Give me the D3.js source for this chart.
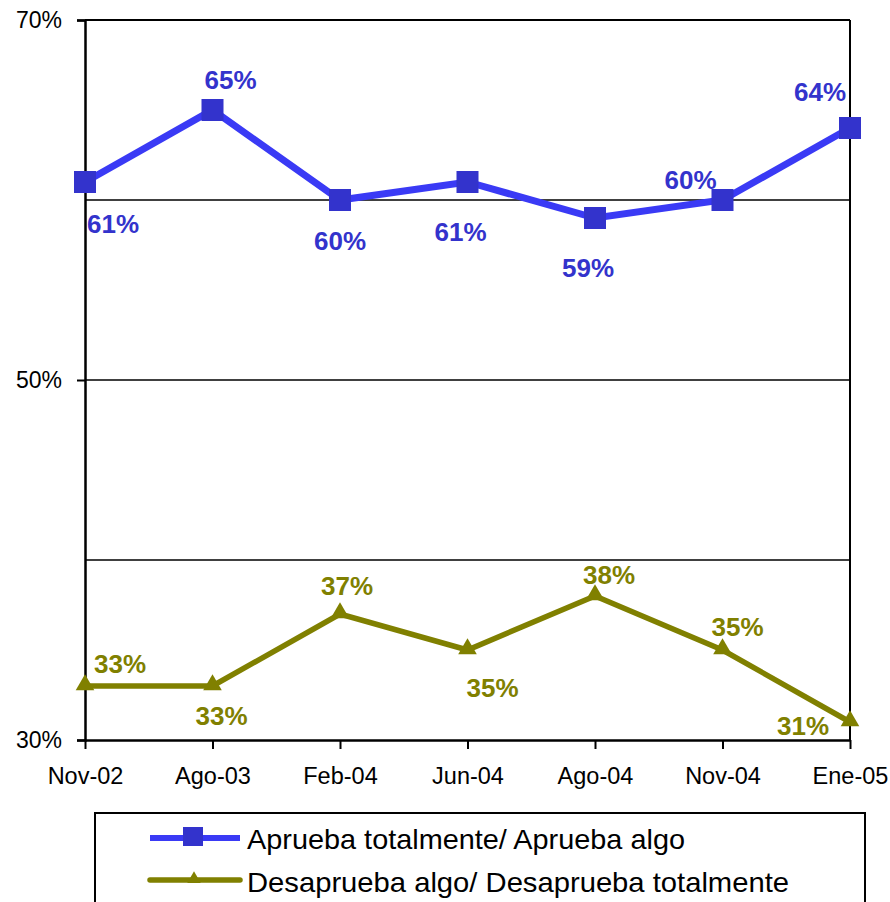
<!DOCTYPE html>
<html><head><meta charset="utf-8">
<script src="https://cdn.jsdelivr.net/npm/d3@7"></script>
<style>body{margin:0;background:#fff}svg{display:block}</style>
</head><body>
<svg id="c" width="890" height="902"></svg>
<script>
const categories = ["Nov-02","Ago-03","Feb-04","Jun-04","Ago-04","Nov-04","Ene-05"];
const aprueba = [61,65,60,61,59,60,64];
const desaprueba = [33,33,37,35,38,35,31];
const yTickLabels = [70,50,30];
const gridValues = [60,50,40];
const seriesNames = ["Aprueba totalmente/ Aprueba algo","Desaprueba algo/ Desaprueba totalmente"];

// label offsets (layout only)
const apruebaOff = [[28,42],[18,-30],[0,41],[-7,50],[-7,50],[-32,-20],[-30,-36]];
const desapruebaOff = [[35,-22],[9,30],[7,-28],[25,38],[14,-21],[15,-23],[-47,4]];

const svg = d3.select("#c");
const L=85,R=850,T=20,B=740;
const x = d3.scalePoint().domain(categories).range([L,R]).padding(0);
const y = d3.scaleLinear().domain([30,70]).range([B,T]);
const font = "'Liberation Sans',Arial,sans-serif";

// gridlines
svg.append("g").selectAll("line").data(gridValues).join("line")
  .attr("x1",L).attr("x2",R).attr("y1",d=>y(d)).attr("y2",d=>y(d))
  .attr("stroke","#000").attr("stroke-width",1.5);
// frame top & right
svg.append("line").attr("x1",L).attr("x2",R).attr("y1",T).attr("y2",T).attr("stroke","#000").attr("stroke-width",2);
svg.append("line").attr("x1",R).attr("x2",R).attr("y1",T).attr("y2",B).attr("stroke","#000").attr("stroke-width",2);

// y axis
const yAxis = d3.axisLeft(y).tickValues(yTickLabels).tickSize(8).tickPadding(15).tickFormat(d=>d+"%");
const gy = svg.append("g").attr("transform",`translate(${L},0)`).call(yAxis);
gy.select(".domain").attr("stroke","#000").attr("stroke-width",2.5);
gy.selectAll(".tick line").attr("stroke","#000").attr("stroke-width",2);
gy.selectAll("text").attr("font-family",font).attr("font-size",23).attr("fill","#000");

// x axis
const xAxis = d3.axisBottom(x).tickSize(9).tickPadding(18).tickSizeOuter(0);
const gx = svg.append("g").attr("transform",`translate(0,${B})`).call(xAxis);
gx.select(".domain").attr("stroke","#000").attr("stroke-width",2.5);
gx.selectAll(".tick line").attr("stroke","#000").attr("stroke-width",2);
gx.selectAll("text").attr("font-family",font).attr("font-size",23.5).attr("fill","#000");

const line = d3.line().x((d,i)=>x(categories[i])).y(d=>y(d));

// blue series
svg.append("path").datum(aprueba).attr("d",line).attr("fill","none")
  .attr("stroke","#3a3af5").attr("stroke-width",7);
svg.append("g").selectAll("rect").data(aprueba).join("rect")
  .attr("x",(d,i)=>x(categories[i])-11).attr("y",d=>y(d)-11)
  .attr("width",22).attr("height",22).attr("fill","#3333cc");
// olive series
svg.append("path").datum(desaprueba).attr("d",line).attr("fill","none")
  .attr("stroke","#808000").attr("stroke-width",5.5);
const tri = d3.symbol().type(d3.symbolTriangle).size(150);
svg.append("g").selectAll("path").data(desaprueba).join("path")
  .attr("d",tri).attr("transform",(d,i)=>`translate(${x(categories[i])},${y(d)-1})`)
  .attr("fill","#808000");

// data labels
svg.append("g").selectAll("text").data(aprueba).join("text")
  .attr("x",(d,i)=>x(categories[i])+apruebaOff[i][0])
  .attr("y",(d,i)=>y(d)+apruebaOff[i][1])
  .attr("text-anchor","middle").attr("dominant-baseline","central")
  .attr("font-family",font).attr("font-weight","bold").attr("font-size",26)
  .attr("fill","#3333cc").text(d=>d+"%");
svg.append("g").selectAll("text").data(desaprueba).join("text")
  .attr("x",(d,i)=>x(categories[i])+desapruebaOff[i][0])
  .attr("y",(d,i)=>y(d)+desapruebaOff[i][1])
  .attr("text-anchor","middle").attr("dominant-baseline","central")
  .attr("font-family",font).attr("font-weight","bold").attr("font-size",26)
  .attr("fill","#808000").text(d=>d+"%");

// legend
const lg = svg.append("g");
lg.append("rect").attr("x",95).attr("y",813).attr("width",770).attr("height",110)
  .attr("fill","#fff").attr("stroke","#000").attr("stroke-width",2);
// entry 1
lg.append("line").attr("x1",150).attr("x2",240).attr("y1",838).attr("y2",838)
  .attr("stroke","#3a3af5").attr("stroke-width",6);
lg.append("rect").attr("x",183).attr("y",827).attr("width",20).attr("height",19).attr("fill","#3333cc");
lg.append("text").attr("x",247).attr("y",839).attr("dominant-baseline","central")
  .attr("font-family",font).attr("font-size",28).attr("fill","#000")
  .attr("textLength",438).attr("lengthAdjust","spacingAndGlyphs").text(seriesNames[0]);
// entry 2
lg.append("line").attr("x1",150).attr("x2",240).attr("y1",880).attr("y2",880)
  .attr("stroke","#808000").attr("stroke-width",5.5).attr("stroke-linecap","round");
lg.append("path").attr("d",d3.symbol().type(d3.symbolTriangle).size(80)).attr("transform","translate(194,879)").attr("fill","#808000");
lg.append("text").attr("x",247).attr("y",882).attr("dominant-baseline","central")
  .attr("font-family",font).attr("font-size",28).attr("fill","#000")
  .attr("textLength",542).attr("lengthAdjust","spacingAndGlyphs").text(seriesNames[1]);
</script>
</body></html>
